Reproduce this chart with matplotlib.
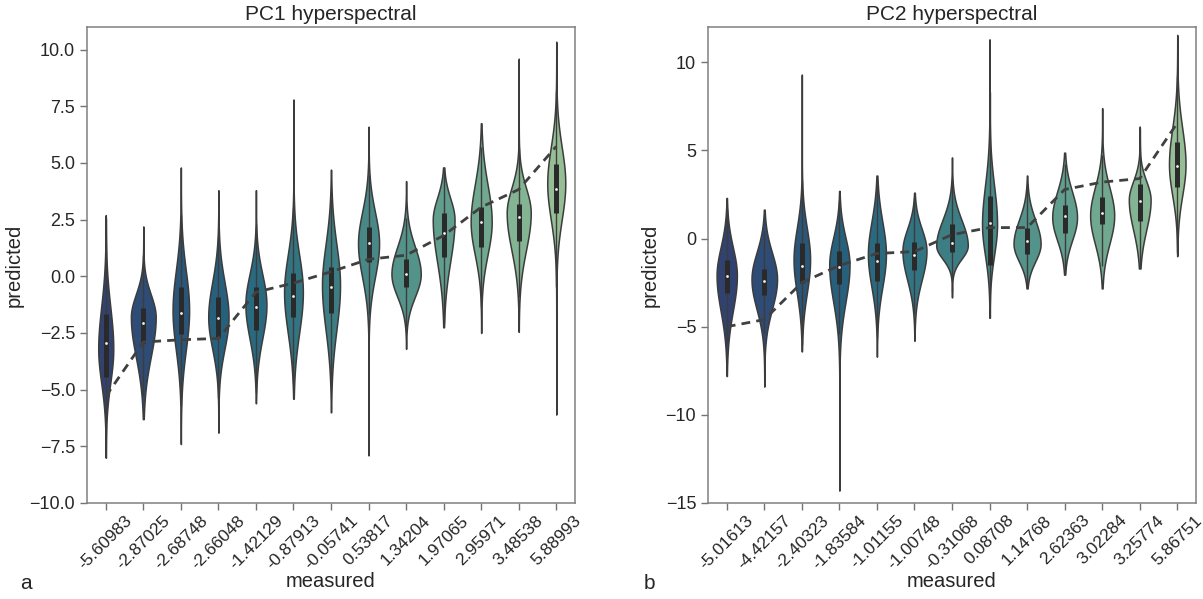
import numpy as np
import matplotlib
matplotlib.use("Agg")
import matplotlib.pyplot as plt
import seaborn as sns

# measured PC scores (one violin per sample group)
pc1_labels = ["-5.60983", "-2.87025", "-2.68748", "-2.66048", "-1.42129", "-0.87913",
              "-0.05741", "0.53817", "1.34204", "1.97065", "2.95971", "3.48538", "5.88993"]
pc2_labels = ["-5.01613", "-4.42157", "-2.40323", "-1.83584", "-1.01155", "-1.00748",
              "-0.31068", "0.08708", "1.14768", "2.62363", "3.02284", "3.25774", "5.86751"]

# dashed reference line
pc1_line = [-5.3, -2.9, -2.8, -2.74, -0.7, -0.3, 0.2, 0.75, 0.93, 1.8, 3.05, 3.83, 5.73]
pc2_line = [-5.0, -4.6, -2.5, -1.53, -0.85, -0.74, 0.22, 0.62, 0.62, 2.78, 3.2, 3.4, 6.55]

# predicted distributions: extremes, quartiles, mode and spread of each violin
pc1_lo = [-8.0, -6.3, -7.4, -6.9, -5.6, -5.4, -6.0, -7.9, -3.2, -2.25, -2.5, -2.45, -6.1]
pc1_hi = [2.7, 2.2, 4.8, 3.8, 3.8, 7.8, 4.7, 6.6, 4.2, 4.8, 6.75, 9.6, 10.35]
pc1_q1 = [-4.45, -2.96, -2.55, -2.7, -2.35, -1.8, -1.6, 0.63, -0.45, 0.84, 1.28, 1.55, 2.78]
pc1_med = [-2.96, -2.07, -1.6, -1.82, -1.35, -0.87, -0.49, 1.46, 0.1, 1.9, 2.38, 2.6, 3.84]
pc1_q3 = [-1.65, -1.4, -0.45, -0.92, -0.48, 0.13, 0.4, 2.17, 0.75, 2.78, 3.05, 3.2, 4.94]
pc1_mode = [-3.2, -1.8, -1.5, -1.8, -1.25, -0.7, -0.4, 1.45, 0.1, 2.5, 2.4, 2.8, 4.1]
pc1_sd_up = [1.85, 1.0, 1.75, 1.55, 1.35, 1.65, 1.8, 1.4, 1.2, 0.95, 1.65, 1.1, 1.6]
pc1_sd_dn = [1.5, 1.75, 1.75, 1.4, 1.5, 1.8, 1.95, 1.5, 1.0, 1.85, 1.45, 1.65, 1.6]
pc1_half = [0.2, 0.33, 0.22, 0.27, 0.28, 0.25, 0.24, 0.28, 0.39, 0.29, 0.28, 0.32, 0.24]

pc2_lo = [-7.8, -8.4, -6.4, -14.3, -6.7, -5.8, -3.34, -4.5, -2.83, -2.05, -2.83, -1.7, -1.0]
pc2_hi = [2.3, 1.64, 9.3, 2.7, 3.57, 2.6, 4.6, 11.3, 3.57, 4.87, 7.4, 6.35, 11.55]
pc2_q1 = [-3.1, -3.2, -2.55, -2.6, -2.4, -1.8, -0.74, -1.5, -0.9, 0.34, 0.8, 1.0, 2.95]
pc2_med = [-2.15, -2.4, -1.57, -1.63, -1.25, -0.96, -0.23, 0.9, -0.16, 1.25, 1.47, 2.1, 4.13]
pc2_q3 = [-1.2, -1.75, -0.23, -0.72, -0.23, -0.17, 0.8, 2.43, 0.62, 1.9, 2.38, 3.1, 5.45]
pc2_mode = [-2.1, -2.3, -1.2, -1.5, -0.9, -0.7, -0.4, 0.8, -0.3, 1.2, 1.3, 2.2, 4.2]
pc2_sd_up = [1.6, 1.5, 1.8, 1.55, 1.85, 1.25, 1.45, 2.2, 1.35, 1.45, 1.6, 1.05, 2.05]
pc2_sd_dn = [2.0, 1.7, 1.9, 2.1, 1.85, 1.65, 0.75, 1.75, 1.0, 1.3, 1.6, 1.7, 1.75]
pc2_half = [0.27, 0.34, 0.22, 0.27, 0.24, 0.32, 0.42, 0.2, 0.36, 0.33, 0.32, 0.29, 0.22]

sns.set_style("ticks")
plt.rcParams["font.family"] = ["Liberation Sans", "DejaVu Sans"]
TXT = "#262626"
EDGE = "#3c3c3c"

palette = [sns.desaturate(c, 0.8) for c in sns.color_palette("crest_r", 13)]


def draw_panel(ax, title, labels, line, lo, hi, q1, med, q3, mode, sd_up, sd_dn, half,
               ylim, yticks, yfmt):
    n = len(labels)
    pos = np.arange(n)
    stats = []
    for i in range(n):
        y = np.linspace(lo[i], hi[i], 400)
        sd = np.where(y < mode[i], sd_dn[i], sd_up[i])
        dens = np.exp(-0.5 * ((y - mode[i]) / sd) ** 2)
        stats.append(dict(coords=y, vals=dens, mean=med[i], median=med[i],
                          min=lo[i], max=hi[i]))
    parts = ax.violin(stats, positions=pos, widths=[2 * h for h in half],
                      showextrema=False, showmeans=False, showmedians=False)
    for body, col in zip(parts["bodies"], palette):
        body.set_facecolor(col)
        body.set_edgecolor(EDGE)
        body.set_linewidth(1.1)
        body.set_alpha(1)
        body.set_zorder(2)

    # inner box: whiskers, interquartile bar, median dot
    q1a, q3a = np.array(q1), np.array(q3)
    iqr = q3a - q1a
    wlo = np.maximum(q1a - 1.5 * iqr, lo)
    whi = np.minimum(q3a + 1.5 * iqr, hi)
    ax.vlines(pos, wlo, whi, color=EDGE, lw=1.0, zorder=3)
    ax.vlines(pos, q1a, q3a, color="#2a2a2a", lw=3.6, zorder=3)
    ax.scatter(pos, med, s=4, color="#f0f0f0", zorder=4, linewidths=0)

    ax.plot(pos, line, color="#404040", lw=2, linestyle=(0, (3.2, 2.2)), zorder=5)

    ax.set_xlim(-0.5, n - 0.5)
    ax.set_ylim(*ylim)
    ax.set_yticks(yticks)
    ax.set_yticklabels([yfmt.format(v).replace("-", "\u2212") for v in yticks])
    ax.set_xticks(pos)
    ax.set_xticklabels(labels, rotation=45)
    ax.tick_params(labelsize=13, colors=TXT, length=5, width=1, color="0.45")
    ax.tick_params(axis="x", labelsize=12.5, pad=2)
    for sp in ax.spines.values():
        sp.set_color("0.5")
        sp.set_linewidth(1.1)
    ax.set_title(title, fontsize=15, color=TXT, pad=5)
    ax.set_xlabel("measured", fontsize=14.5, color=TXT, labelpad=0)
    ax.set_ylabel("predicted", fontsize=14.5, color=TXT)


fig = plt.figure(figsize=(12.03, 5.99), dpi=100)
ax1 = fig.add_axes([0.0723, 0.1603, 0.4057, 0.7947])
ax2 = fig.add_axes([0.5885, 0.1603, 0.4057, 0.7947])

draw_panel(ax1, "PC1 hyperspectral", pc1_labels, pc1_line, pc1_lo, pc1_hi, pc1_q1,
           pc1_med, pc1_q3, pc1_mode, pc1_sd_up, pc1_sd_dn, pc1_half,
           (-10, 11), np.arange(-10, 10.1, 2.5), "{:.1f}")
draw_panel(ax2, "PC2 hyperspectral", pc2_labels, pc2_line, pc2_lo, pc2_hi, pc2_q1,
           pc2_med, pc2_q3, pc2_mode, pc2_sd_up, pc2_sd_dn, pc2_half,
           (-15, 12), np.arange(-15, 11, 5), "{:.0f}")

fig.text(0.017, 0.017, "a", fontsize=15, color=TXT)
fig.text(0.535, 0.017, "b", fontsize=15, color=TXT)

fig.savefig("out.png", dpi=100, facecolor="white")
